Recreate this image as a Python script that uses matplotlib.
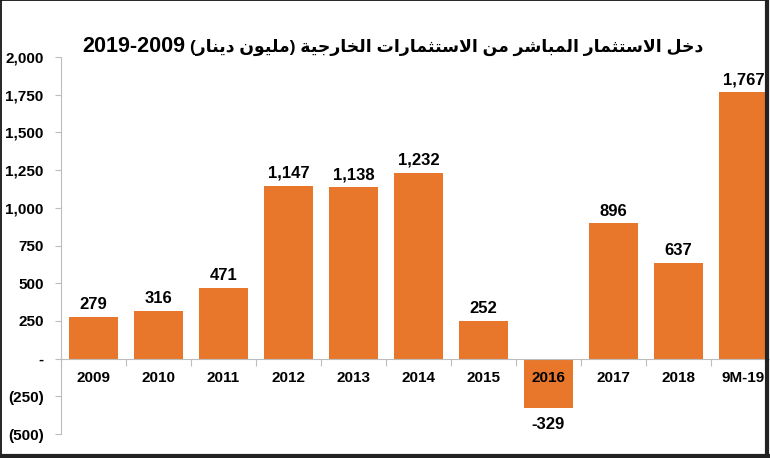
import matplotlib
matplotlib.use("Agg")
import matplotlib.pyplot as plt
from matplotlib.lines import Line2D

## chart data
categories = ["2009", "2010", "2011", "2012", "2013", "2014", "2015", "2016", "2017", "2018", "9M-19"]
values = [279, 316, 471, 1147, 1138, 1232, 252, -329, 896, 637, 1767]
value_labels = ["279", "316", "471", "1,147", "1,138", "1,232", "252", "-329", "896", "637", "1,767"]
ytick_values = [2000, 1750, 1500, 1250, 1000, 750, 500, 250, 0, -250, -500]
ytick_labels = ["2,000", "1,750", "1,500", "1,250", "1,000", "750", "500", "250", "-", "(250)", "(500)"]
title_ar = "دخل الاستثمار المباشر من الاستثمارات الخارجية"
unit_ar = "مليون دينار"
title_years = "2019-2009"

## small arabic shaper: (isolated, final, initial, medial)
FORMS = {
    "ا": (0xFE8D, 0xFE8E, None, None),
    "ب": (0xFE8F, 0xFE90, 0xFE91, 0xFE92),
    "ة": (0xFE93, 0xFE94, None, None),
    "ت": (0xFE95, 0xFE96, 0xFE97, 0xFE98),
    "ث": (0xFE99, 0xFE9A, 0xFE9B, 0xFE9C),
    "ج": (0xFE9D, 0xFE9E, 0xFE9F, 0xFEA0),
    "خ": (0xFEA5, 0xFEA6, 0xFEA7, 0xFEA8),
    "د": (0xFEA9, 0xFEAA, None, None),
    "ر": (0xFEAD, 0xFEAE, None, None),
    "س": (0xFEB1, 0xFEB2, 0xFEB3, 0xFEB4),
    "ش": (0xFEB5, 0xFEB6, 0xFEB7, 0xFEB8),
    "ل": (0xFEDD, 0xFEDE, 0xFEDF, 0xFEE0),
    "م": (0xFEE1, 0xFEE2, 0xFEE3, 0xFEE4),
    "ن": (0xFEE5, 0xFEE6, 0xFEE7, 0xFEE8),
    "و": (0xFEED, 0xFEEE, None, None),
    "ي": (0xFEF1, 0xFEF2, 0xFEF3, 0xFEF4),
    "ﻻ": (0xFEFB, 0xFEFC, None, None),
}


def shape(text):
    text = text.replace("لا", "ﻻ")
    out = []
    for i, ch in enumerate(text):
        if ch not in FORMS:
            out.append(ch)
            continue
        prev = text[i - 1] if i > 0 else ""
        nxt = text[i + 1] if i + 1 < len(text) else ""
        join_prev = prev in FORMS and FORMS[prev][2] is not None
        join_next = nxt in FORMS and FORMS[ch][2] is not None
        iso, fin, ini, med = FORMS[ch]
        if join_prev and join_next:
            code = med
        elif join_prev:
            code = fin
        elif join_next:
            code = ini
        else:
            code = iso
        out.append(chr(code))
    return "".join(out)[::-1]


def main():
    plt.rcParams["font.family"] = ["Liberation Sans", "DejaVu Sans"]
    plt.rcParams["font.weight"] = "bold"
    fig = plt.figure(figsize=(7.7, 4.58), dpi=100)
    ax = fig.add_axes([0.0792, 0.0524, 0.9286, 0.8231])

    x = list(range(len(categories)))
    ax.bar(x, values, width=0.74, color="#E8772B", zorder=2)
    ax.set_xlim(-0.5, 10.5)
    ax.set_ylim(-500, 2000)

    ax.set_yticks(ytick_values)
    ax.set_yticklabels(ytick_labels, fontsize=11, fontweight="bold")
    ax.tick_params(axis="y", length=4, color="#BDBDBD", pad=8.5)

    ax.spines["top"].set_visible(False)
    ax.spines["right"].set_visible(False)
    ax.spines["left"].set_color("#BDBDBD")
    ax.spines["bottom"].set_position(("data", 0))
    ax.spines["bottom"].set_color("#BDBDBD")
    ax.set_xticks([i - 0.5 for i in range(len(categories) + 1)])
    ax.set_xticklabels([])
    ax.tick_params(axis="x", length=5, color="#BDBDBD")

    for i, (cat, v, lab) in enumerate(zip(categories, values, value_labels)):
        ax.text(i, -126, cat, ha="center", va="center", fontsize=11, fontweight="bold", zorder=3)
        if v >= 0:
            ax.text(i, v + 53, lab, ha="center", va="baseline", fontsize=12, fontweight="bold")
        else:
            ax.text(i, v - 60, lab, ha="center", va="top", fontsize=12, fontweight="bold")

    # title: years on the left, arabic text right after it
    t1 = fig.text(82 / 770, 1 - 52 / 458, title_years, ha="left", va="baseline",
                  fontsize=15.5, fontweight="bold")
    renderer = fig.canvas.get_renderer()
    bb = t1.get_window_extent(renderer)
    ar_text = "(" + shape(unit_ar) + ") " + shape(title_ar)
    fig.text((bb.x1 + 5) / 770, 1 - 52 / 458, ar_text, ha="left", va="baseline",
             fontsize=12.4, fontweight="bold")

    # frame around the picture
    fig.add_artist(Line2D([0.001, 0.001, 0.997], [0.003, 0.999, 0.999], transform=fig.transFigure, color="black", lw=1.2))
    fig.add_artist(Line2D([0.996, 0.996], [0.999, 0.004], transform=fig.transFigure, color="#222222", lw=3))
    fig.add_artist(Line2D([0.001, 0.997], [0.004, 0.004], transform=fig.transFigure, color="#222222", lw=3))

    plt.savefig("out.png", dpi=100)


if __name__ == "__main__":
    main()
